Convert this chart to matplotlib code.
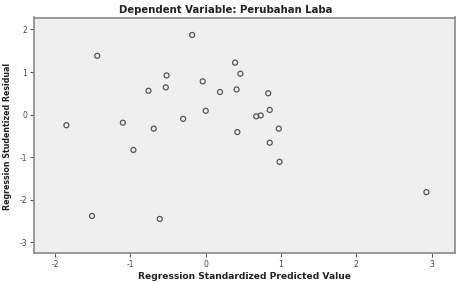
import matplotlib
matplotlib.use("Agg")
import matplotlib.pyplot as plt

predicted = [-0.18, -1.44, 0.39, 0.46, -0.52, -0.04, -0.76, -0.53, 0.19, 0.41,
             0.83, 0.00, 0.85, -0.30, 0.67, 0.73, -1.85, -1.10, -0.69, 0.97,
             0.42, 0.85, -0.96, 0.98, 2.93, -1.51, -0.61]
residual = [1.87, 1.38, 1.22, 0.96, 0.92, 0.78, 0.56, 0.64, 0.53, 0.59,
            0.50, 0.09, 0.11, -0.10, -0.04, -0.02, -0.25, -0.19, -0.33, -0.33,
            -0.41, -0.66, -0.83, -1.11, -1.82, -2.38, -2.45]
xticks = [-2, -1, 0, 1, 2, 3]
yticks = [-3, -2, -1, 0, 1, 2]

plt.rcParams['axes.unicode_minus'] = False
fig = plt.figure(figsize=(4.59, 2.83), dpi=100)
ax = fig.add_axes([34/459, 1 - 253/283, (455-34)/459, (253-17.5)/283])
ax.set_facecolor("#efefef")
ax.scatter(predicted, residual, s=13, facecolors="none", edgecolors="#555555", linewidths=0.9)
ax.set_xlim(-2.28, 3.31)
ax.set_ylim(-3.25, 2.28)
ax.set_xticks(xticks)
ax.set_yticks(yticks)
ax.tick_params(labelsize=5.5, length=3, width=0.8, colors="#555555", labelcolor="#444444", pad=2)
for s in ax.spines.values():
    s.set_color("#8a8a8a")
    s.set_linewidth(1.2)
fig.text(226/459, 1 - 10/283, "Dependent Variable: Perubahan Laba", ha="center", va="center",
         fontsize=7.3, fontweight="bold", color="#222222")
fig.text(244.5/459, 1 - 276.5/283, "Regression Standardized Predicted Value", ha="center", va="center",
         fontsize=6.6, fontweight="bold", color="#222222")
fig.text(8/459, 1 - 136/283, "Regression Studentized Residual", ha="center", va="center",
         rotation=90, fontsize=5.7, fontweight="bold", color="#222222")
fig.savefig("out.png", dpi=100)
